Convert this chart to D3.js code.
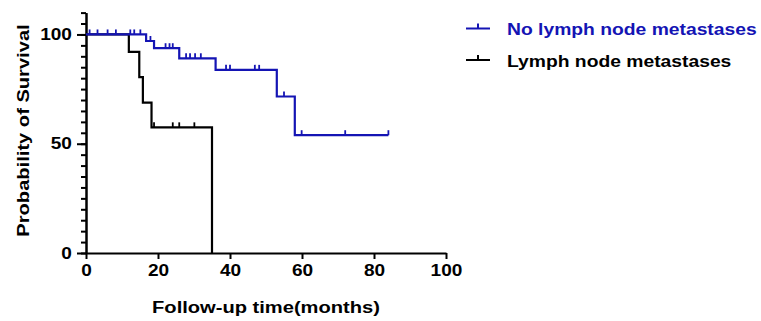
<!DOCTYPE html>
<html>
<head>
<meta charset="utf-8">
<script src="https://cdn.jsdelivr.net/npm/d3@7"></script>
<style>
  body { margin: 0; background: #fff; }
  text { font-family: "Liberation Sans", Arial, sans-serif; font-weight: bold; }
</style>
</head>
<body>
<div id="chart-container"></div>
<script>
let width = 761,
    height = 321;

let margin = { top: 12.6, left: 86, right: 315, bottom: 68 };

// the original font is a bit wider than Arial
let stretch = 1.17;

// ----- DATA -----
let groupNames = ["No lymph node metastases", "Lymph node metastases"];
let groupColors = ["#1414b4", "#000000"];

// step curve: time (months) and survival (%)
let noMetTimes = [0, 16.7, 18.9, 25.9, 36.0, 53.0, 58.0, 84];
let noMetSurv  = [100, 97.0, 93.7, 89.1, 83.8, 71.6, 53.9, 53.9];
let noMetCensor = [1, 3.2, 6, 8.3, 12.3, 13.4, 15.1, 17.9, 22.1, 23.2, 24.1,
                   27.8, 28.9, 30.3, 31.9, 38.9, 40, 46.9, 48.1, 55, 59.9, 72, 84];

let metTimes = [0, 11.9, 14.8, 15.8, 18.2, 35];
let metSurv  = [100, 92.0, 80.5, 68.8, 57.5, 0];
let metCensor = [18.9, 24.1, 25.9, 30.1];

let xTicks = [0, 20, 40, 60, 80, 100];
let yTicks = [0, 50, 100];
let yMinorTicks = d3.range(0, 111, 5);

let svg = d3.select("#chart-container")
            .append("svg")
            .attr("width", width)
            .attr("height", height);

let xScale = d3.scaleLinear()
    .domain([0, 100])
    .range([margin.left, width - margin.right]);

let yScale = d3.scaleLinear()
    .domain([0, 110])
    .range([height - margin.bottom, margin.top]);

// ----- AXES -----
let xAxis = svg.append("g")
    .attr("transform", `translate(0, ${yScale(0)})`)
    .call(d3.axisBottom(xScale).tickValues(xTicks).tickSize(6).tickPadding(5).tickSizeOuter(0));

let yMinor = svg.append("g")
    .attr("transform", `translate(${xScale(0)}, 0)`)
    .call(d3.axisLeft(yScale).tickValues(yMinorTicks).tickSize(5).tickFormat("").tickSizeOuter(0));

let yAxis = svg.append("g")
    .attr("transform", `translate(${xScale(0)}, 0)`)
    .call(d3.axisLeft(yScale).tickValues(yTicks).tickSize(9).tickPadding(3).tickSizeOuter(0));

svg.selectAll(".domain, .tick line")
    .attr("stroke", "#000")
    .attr("stroke-width", 2);

svg.selectAll(".tick text")
    .style("font-size", "16.3px")
    .attr("fill", "#000")
    .attr("transform", `scale(${stretch},1)`);

// ----- AXIS LABELS -----
svg.append("text")
    .attr("transform", `translate(${(xScale(0) + xScale(100)) / 2}, 312.7) scale(${stretch},1)`)
    .style("text-anchor", "middle")
    .style("font-size", "17.2px")
    .text("Follow-up time(months)");

svg.append("text")
    .attr("transform", `translate(29, 130.5) rotate(-90) scale(${stretch},1)`)
    .style("text-anchor", "middle")
    .style("font-size", "17.2px")
    .text("Probability of Survival");

// ----- CURVES -----
let groups = [
  { times: noMetTimes, surv: noMetSurv, censor: noMetCensor },
  { times: metTimes, surv: metSurv, censor: metCensor }
];

let line = d3.line()
    .x(d => xScale(d[0]))
    .y(d => yScale(d[1]))
    .curve(d3.curveStepAfter);

// survival value at time t for a group (step function)
function survAt(g, t) {
  let s = g.surv[0];
  g.times.forEach((tt, i) => { if (tt <= t) s = g.surv[i]; });
  return s;
}

// draw black group first so blue sits on top like the original
[1, 0].forEach(i => {
  let g = groups[i];
  let pts = g.times.map((t, j) => [t, g.surv[j]]);
  svg.append("path")
      .datum(pts)
      .attr("d", line)
      .attr("fill", "none")
      .attr("stroke", groupColors[i])
      .attr("stroke-width", 2.2);

  svg.selectAll(null)
      .data(g.censor)
      .enter()
      .append("line")
      .attr("x1", d => xScale(d))
      .attr("x2", d => xScale(d))
      .attr("y1", d => yScale(survAt(g, d)))
      .attr("y2", d => yScale(survAt(g, d)) - 5)
      .attr("stroke", groupColors[i])
      .attr("stroke-width", 1.8);
});

// ----- LEGEND -----
let legend = svg.append("g");
groupNames.forEach((name, i) => {
  let y = 28.5 + i * 31.5;
  legend.append("line")
      .attr("x1", 466).attr("x2", 490)
      .attr("y1", y).attr("y2", y)
      .attr("stroke", groupColors[i])
      .attr("stroke-width", 2);
  legend.append("line")
      .attr("x1", 478).attr("x2", 478)
      .attr("y1", y).attr("y2", y - 5)
      .attr("stroke", groupColors[i])
      .attr("stroke-width", 2);
  legend.append("text")
      .attr("transform", `translate(507, ${y + 6.5}) scale(${stretch},1)`)
      .attr("fill", groupColors[i])
      .style("font-size", "16.5px")
      .text(name);
});
</script>
</body>
</html>
